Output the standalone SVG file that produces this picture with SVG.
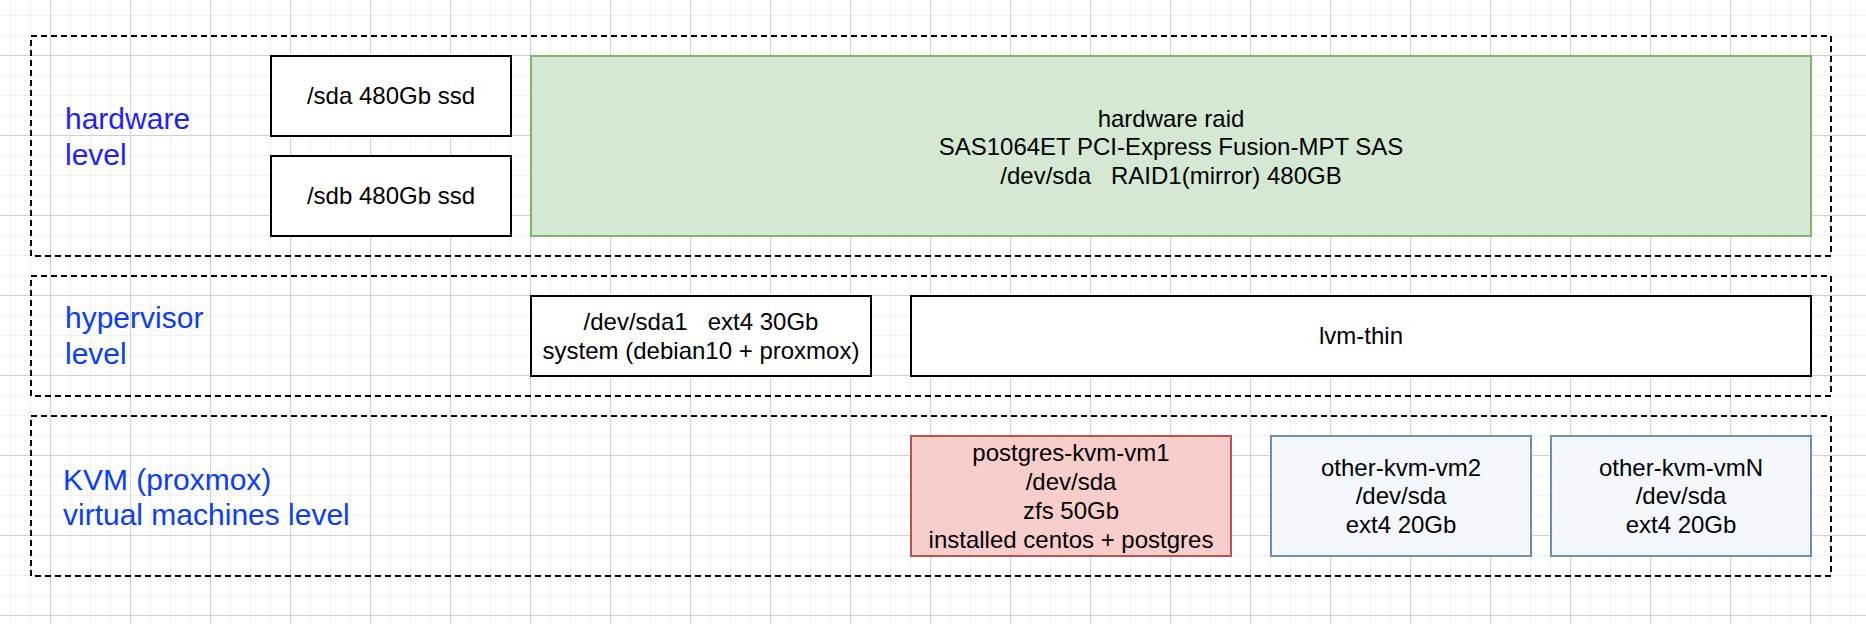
<svg xmlns="http://www.w3.org/2000/svg" width="1866" height="624" viewBox="0 0 1866 624">
<style>
.lvl{fill:none;stroke:#000;stroke-width:2;stroke-dasharray:6 4}
.box{fill:#fff;stroke:#000;stroke-width:2}
.t{font-family:"Liberation Sans",Arial,sans-serif;font-size:24px;fill:#000;text-anchor:middle}
.lab{font-family:"Liberation Sans",Arial,sans-serif;font-size:30px}
</style>
<defs>
<pattern id="minor" x="0" y="0" width="20" height="20" patternUnits="userSpaceOnUse">
<path d="M10.5 0V20M0 15.5H20" stroke="#f0f0f0" stroke-width="1" fill="none"/>
</pattern>
<pattern id="major" x="0" y="0" width="80" height="80" patternUnits="userSpaceOnUse">
<path d="M50.5 0V80M0 55.5H80" stroke="#d0d0d0" stroke-width="1" fill="none"/>
</pattern>
</defs>
<rect width="1866" height="624" fill="#fff"/>
<rect width="1866" height="624" fill="url(#minor)"/>
<rect width="1866" height="624" fill="url(#major)"/>

<g id="hardware-level">
<rect class="lvl" x="31" y="36" width="1800" height="220"/>
<text class="lab" fill="#1e1eff" x="65" y="129">hardware</text>
<text class="lab" fill="#1e1eff" x="65" y="165">level</text>
</g>
<g id="hypervisor-level">
<rect class="lvl" x="31" y="276" width="1800" height="120"/>
<text class="lab" fill="#0a3cff" x="65" y="328">hypervisor</text>
<text class="lab" fill="#0a3cff" x="65" y="364">level</text>
</g>
<g id="kvm-level">
<rect class="lvl" x="31" y="416" width="1800" height="160"/>
<text class="lab" fill="#0a3cff" x="63" y="490">KVM (proxmox)</text>
<text class="lab" fill="#0a3cff" x="63" y="525">virtual machines level</text>
</g>

<g id="sda">
<rect class="box" x="271" y="56" width="240" height="80"/>
<text class="t" x="391" y="104.4">/sda 480Gb ssd</text>
</g>
<g id="sdb">
<rect class="box" x="271" y="156" width="240" height="80"/>
<text class="t" x="391" y="204.4">/sdb 480Gb ssd</text>
</g>
<g id="hardware-raid">
<rect x="531" y="56" width="1280" height="180" fill="#d5e8d4" stroke="#82b366" stroke-width="2"/>
<text class="t" x="1171" y="126.6">hardware raid</text>
<text class="t" x="1171" y="155.4">SAS1064ET PCI-Express Fusion-MPT SAS</text>
<text class="t" x="1171" y="184.2" xml:space="preserve">/dev/sda   RAID1(mirror) 480GB</text>
</g>
<g id="sda1">
<rect class="box" x="531" y="296" width="340" height="80"/>
<text class="t" x="701" y="330" xml:space="preserve">/dev/sda1   ext4 30Gb</text>
<text class="t" x="701" y="358.8">system (debian10 + proxmox)</text>
</g>
<g id="lvm-thin">
<rect class="box" x="911" y="296" width="900" height="80"/>
<text class="t" x="1361" y="344.4">lvm-thin</text>
</g>
<g id="postgres-kvm-vm1">
<rect x="911" y="436" width="320" height="120" fill="#f8cecc" stroke="#b85450" stroke-width="2"/>
<text class="t" x="1071" y="461.2">postgres-kvm-vm1</text>
<text class="t" x="1071" y="490">/dev/sda</text>
<text class="t" x="1071" y="518.8">zfs 50Gb</text>
<text class="t" x="1071" y="547.6">installed centos + postgres</text>
</g>
<g id="other-kvm-vm2">
<rect x="1271" y="436" width="260" height="120" fill="#f4f7fc" stroke="#6c8ebf" stroke-width="2"/>
<text class="t" x="1401" y="475.6">other-kvm-vm2</text>
<text class="t" x="1401" y="504.4">/dev/sda</text>
<text class="t" x="1401" y="533.2">ext4 20Gb</text>
</g>
<g id="other-kvm-vmN">
<rect x="1551" y="436" width="260" height="120" fill="#f4f7fc" stroke="#6c8ebf" stroke-width="2"/>
<text class="t" x="1681" y="475.6">other-kvm-vmN</text>
<text class="t" x="1681" y="504.4">/dev/sda</text>
<text class="t" x="1681" y="533.2">ext4 20Gb</text>
</g>
<g id="connectors"/>
</svg>
